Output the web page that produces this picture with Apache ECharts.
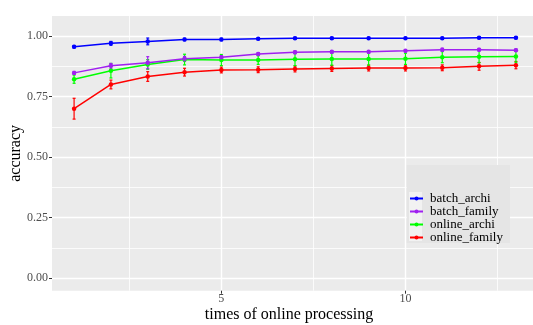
<!DOCTYPE html>
<html>
<head>
<meta charset="utf-8">
<script src="https://cdn.jsdelivr.net/npm/echarts@6/dist/echarts.min.js"></script>
<style>
	html, body { margin: 0; padding: 0; background: #fff; }
	#chart { width: 533px; height: 325px; }
</style>
</head>
<body>
<div id="chart"></div>
<script>
	// x values: times of online processing
	var times = [1, 2, 3, 4, 5, 6, 7, 8, 9, 10, 11, 12, 13];

	// mean accuracy per run
	var batchArchi   = [0.956, 0.970, 0.978, 0.986, 0.986, 0.989, 0.991, 0.991, 0.991, 0.991, 0.991, 0.993, 0.993];
	var batchFamily  = [0.848, 0.877, 0.890, 0.906, 0.913, 0.926, 0.933, 0.935, 0.935, 0.939, 0.944, 0.944, 0.942];
	var onlineArchi  = [0.822, 0.857, 0.883, 0.903, 0.901, 0.901, 0.904, 0.905, 0.905, 0.906, 0.913, 0.915, 0.916];
	var onlineFamily = [0.700, 0.800, 0.833, 0.851, 0.860, 0.861, 0.864, 0.866, 0.868, 0.868, 0.869, 0.875, 0.880];

	// half width of the error bars
	var batchArchiErr   = [0.005, 0.008, 0.014, 0.005, 0.005, 0.004, 0.004, 0.004, 0.004, 0.004, 0.004, 0.004, 0.004];
	var batchFamilyErr  = [0.006, 0.010, 0.025, 0.010, 0.006, 0.006, 0.006, 0.005, 0.005, 0.005, 0.006, 0.005, 0.005];
	var onlineArchiErr  = [0.017, 0.030, 0.020, 0.022, 0.023, 0.018, 0.026, 0.025, 0.025, 0.023, 0.023, 0.025, 0.024];
	var onlineFamilyErr = [0.043, 0.018, 0.020, 0.016, 0.012, 0.012, 0.012, 0.012, 0.012, 0.012, 0.012, 0.016, 0.015];

	var groups = ['batch_archi', 'batch_family', 'online_archi', 'online_family'];
	var colors = ['#0000FF', '#A020F0', '#00FF00', '#FF0000'];

	var xMajor = [5, 10];
	var xMinor = [2.5, 7.5, 12.5];
	var yMajor = [0, 0.25, 0.5, 0.75, 1];
	var yMinor = [0.125, 0.375, 0.625, 0.875];

	var serif = 'Liberation Serif';

	function lineSeries(name, color, means) {
		return {
			name: name,
			type: 'line',
			data: times.map(function (t, i) { return [t, means[i]]; }),
			symbol: 'circle',
			symbolSize: 4.5,
			itemStyle: { color: color },
			lineStyle: { color: color, width: 1.5 },
			z: 3
		};
	}

	function errorSeries(name, color, means, errs) {
		return {
			name: name + '_err',
			type: 'custom',
			data: times.map(function (t, i) { return [t, means[i] - errs[i], means[i] + errs[i]]; }),
			encode: { x: 0, y: [1, 2] },
			z: 2,
			renderItem: function (params, api) {
				var lo = api.coord([api.value(0), api.value(1)]);
				var hi = api.coord([api.value(0), api.value(2)]);
				var hw = 1.5;
				var st = { stroke: color, lineWidth: 1.2 };
				return {
					type: 'group',
					children: [
						{ type: 'line', shape: { x1: lo[0], y1: lo[1], x2: hi[0], y2: hi[1] }, style: st },
						{ type: 'line', shape: { x1: lo[0] - hw, y1: lo[1], x2: lo[0] + hw, y2: lo[1] }, style: st },
						{ type: 'line', shape: { x1: hi[0] - hw, y1: hi[1], x2: hi[0] + hw, y2: hi[1] }, style: st }
					]
				};
			}
		};
	}

	var chart = echarts.init(document.getElementById('chart'), null, { renderer: 'canvas' });

	var option = {
		animation: false,
		backgroundColor: '#FFFFFF',
		grid: {
			left: 52, top: 16, right: -5, bottom: 34.3,
			outerBoundsMode: 'none', containLabel: false,
			show: true, backgroundColor: '#EBEBEB', borderWidth: 0
		},
		graphic: [
			{ type: 'rect', shape: { x: 406.7, y: 165, width: 103.3, height: 78 }, style: { fill: '#E5E5E5' }, z: 1 },
			{ type: 'rect', shape: { x: 409, y: 192, width: 13, height: 49 }, style: { fill: '#F2F2F2' }, z: 1 }
		],
		legend: {
			data: groups,
			orient: 'vertical',
			left: 409, top: 192,
			padding: 0,
			itemWidth: 13, itemHeight: 5, itemGap: 0,
			textStyle: { fontFamily: serif, fontSize: 13, color: '#000', lineHeight: 12, padding: [0, 0, 0, 2] },
			z: 5
		},
		xAxis: [{
			type: 'value', min: 0.4, max: 13.6,
			name: 'times of online processing', nameLocation: 'middle', nameGap: 16, nameMoveOverlap: false,
			nameTextStyle: { fontFamily: serif, fontSize: 16, color: '#000', padding: [0, 12, 0, 0] },
			axisLine: { show: false, onZero: false },
			axisTick: { show: true, length: 3, customValues: xMajor, lineStyle: { color: '#333333' } },
			axisLabel: { customValues: xMajor, margin: 2, fontFamily: serif, fontSize: 12, color: '#4D4D4D' },
			splitLine: { show: true, lineStyle: { color: '#FFFFFF', width: 1.4 } }
		}, {
			type: 'value', min: 0.4, max: 13.6,
			axisLine: { show: false, onZero: false },
			axisTick: { show: false, customValues: xMinor },
			axisLabel: { show: false },
			splitLine: { show: true, lineStyle: { color: '#FFFFFF', width: 0.8 } }
		}],
		yAxis: [{
			type: 'value', min: -0.052, max: 1.083,
			name: 'accuracy', nameLocation: 'middle', nameGap: 28, nameRotate: 90, nameMoveOverlap: false,
			nameTextStyle: { fontFamily: serif, fontSize: 16, color: '#000' },
			axisLine: { show: false, onZero: false },
			axisTick: { show: true, length: 3, customValues: yMajor, lineStyle: { color: '#333333' } },
			axisLabel: {
				customValues: yMajor, margin: 4, fontFamily: serif, fontSize: 12, color: '#4D4D4D',
				formatter: function (v) { return v.toFixed(2); }
			},
			splitLine: { show: true, lineStyle: { color: '#FFFFFF', width: 1.4 } }
		}, {
			type: 'value', min: -0.052, max: 1.083, position: 'left',
			axisLine: { show: false, onZero: false },
			axisTick: { show: false, customValues: yMinor },
			axisLabel: { show: false },
			splitLine: { show: true, lineStyle: { color: '#FFFFFF', width: 0.8 } }
		}],
		series: [
			errorSeries(groups[3], colors[3], onlineFamily, onlineFamilyErr),
			errorSeries(groups[2], colors[2], onlineArchi, onlineArchiErr),
			errorSeries(groups[1], colors[1], batchFamily, batchFamilyErr),
			errorSeries(groups[0], colors[0], batchArchi, batchArchiErr),
			lineSeries(groups[3], colors[3], onlineFamily),
			lineSeries(groups[2], colors[2], onlineArchi),
			lineSeries(groups[1], colors[1], batchFamily),
			lineSeries(groups[0], colors[0], batchArchi)
		]
	};

	chart.setOption(option);
	window.addEventListener('resize', function () { chart.resize(); });
</script>
</body>
</html>
